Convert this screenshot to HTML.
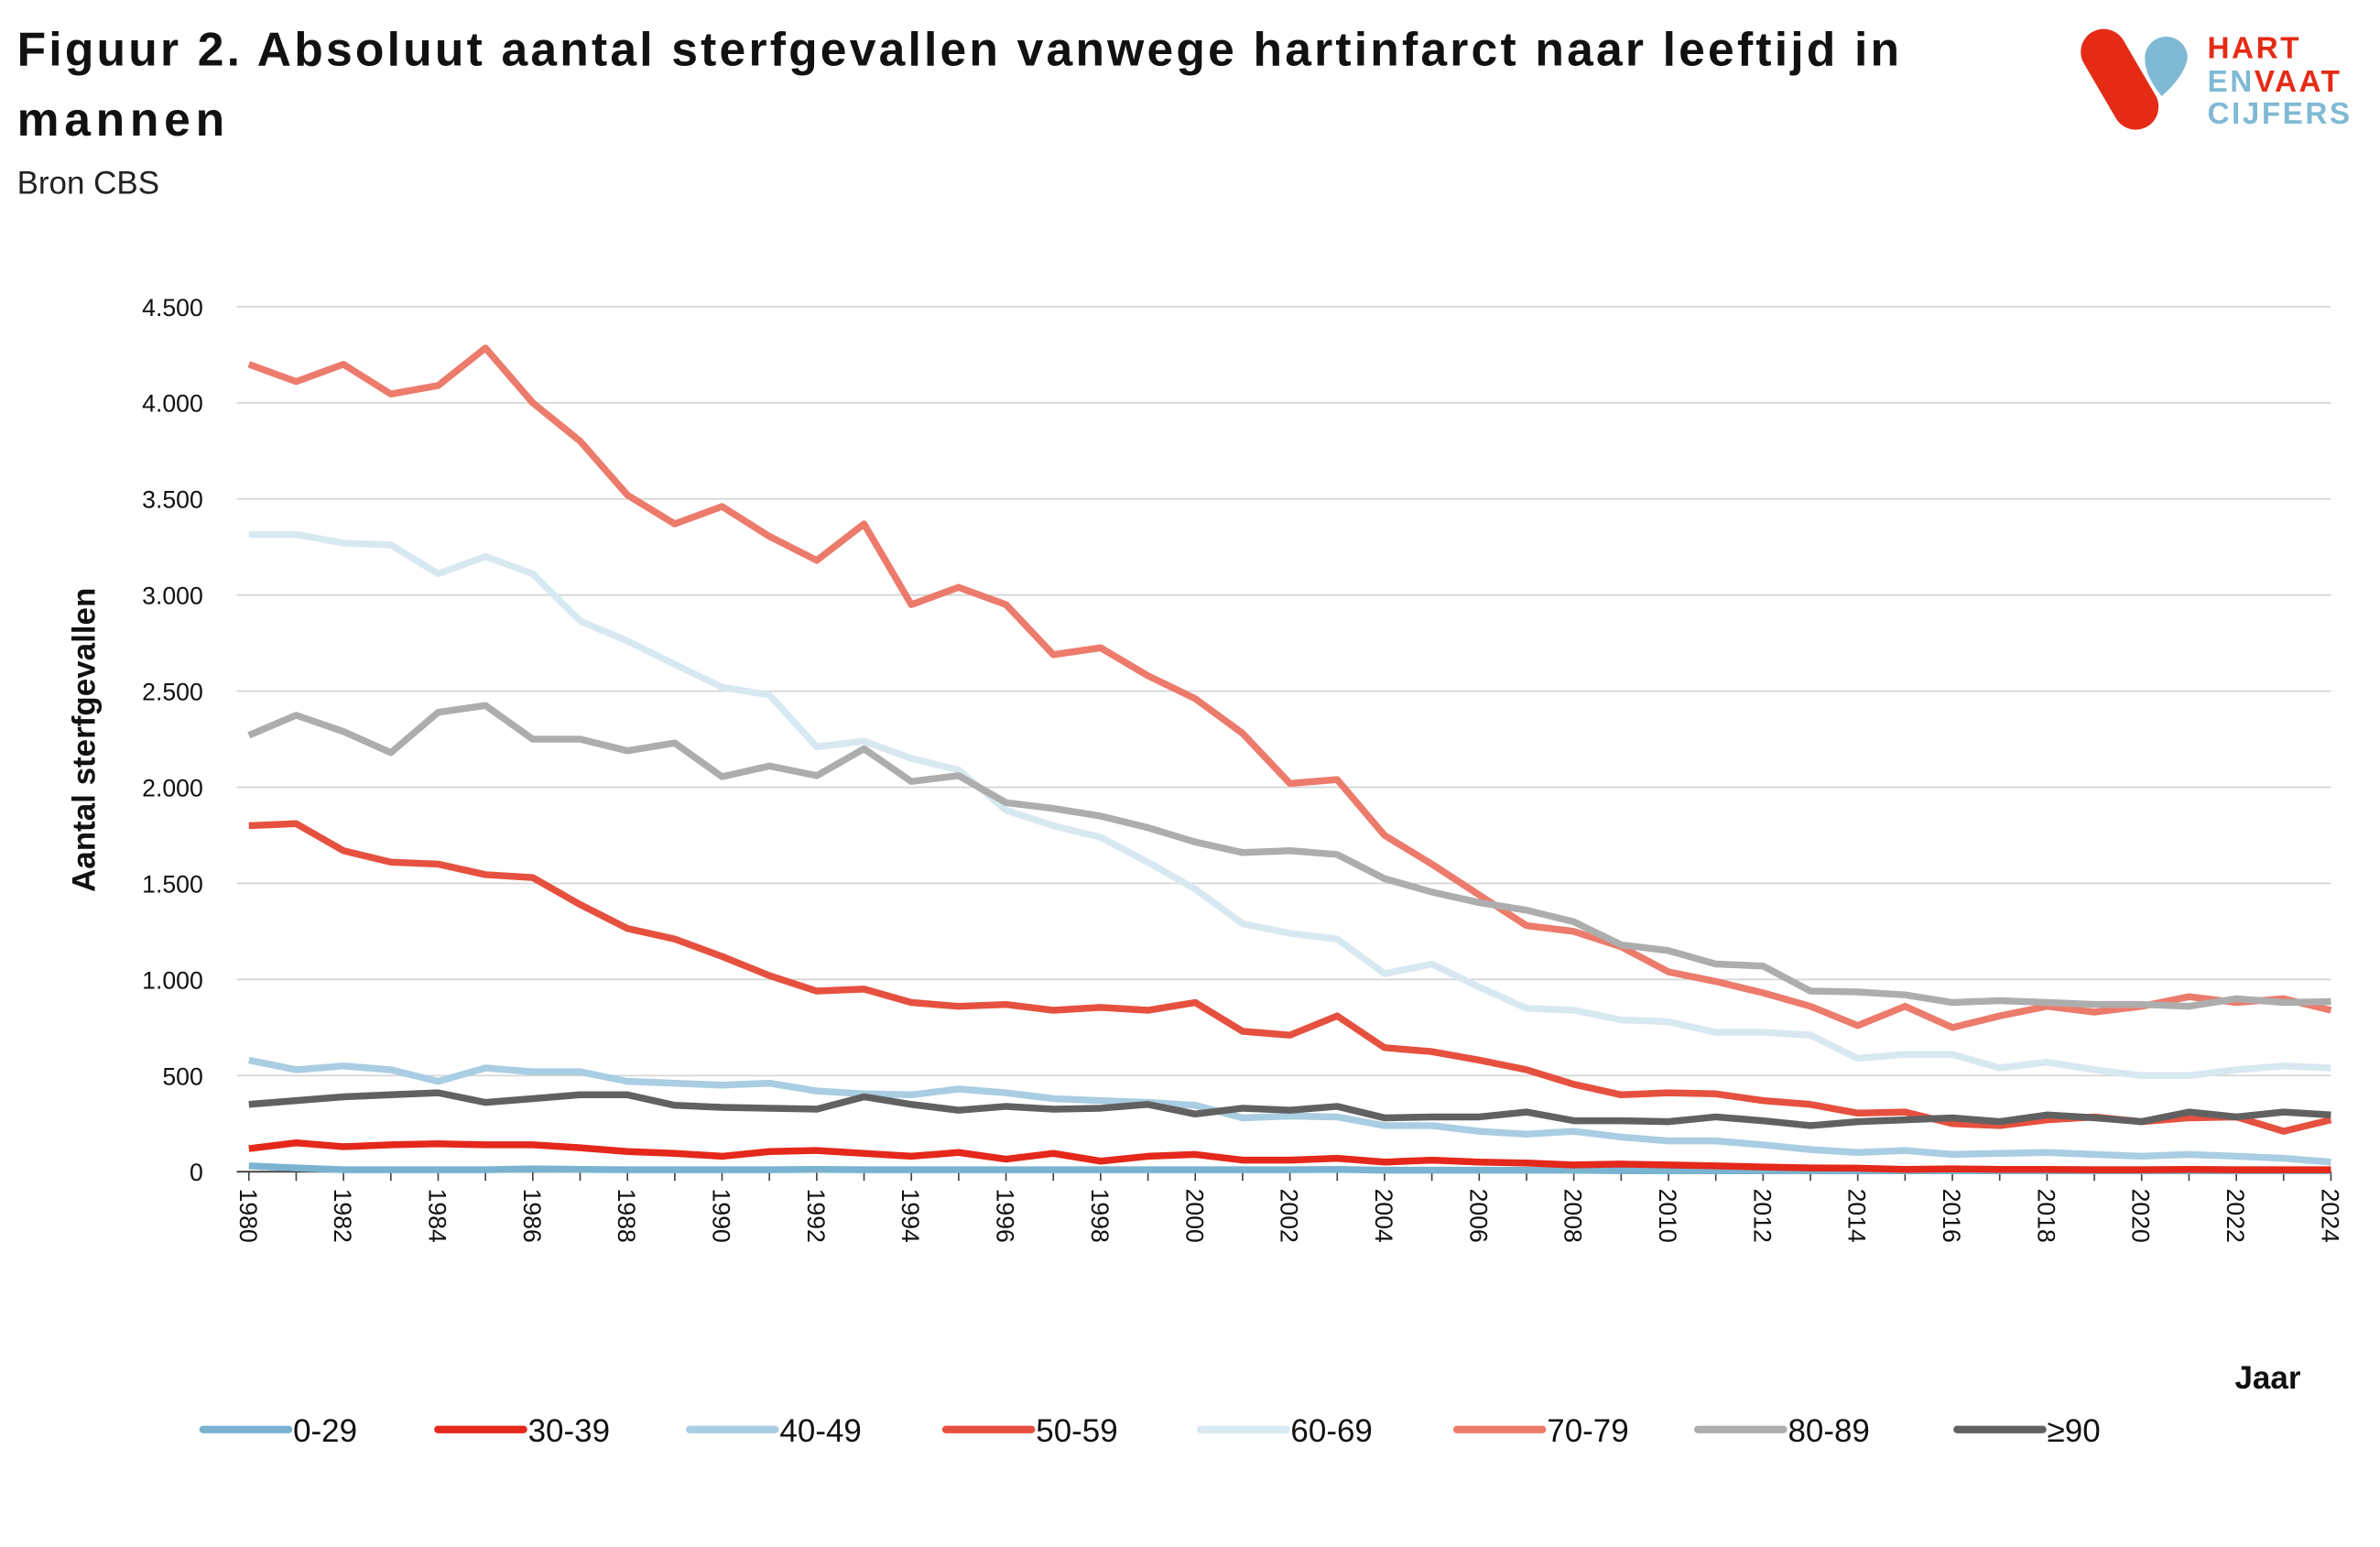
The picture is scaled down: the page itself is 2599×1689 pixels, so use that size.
<!DOCTYPE html>
<html><head><meta charset="utf-8"><style>
html,body{margin:0;padding:0;background:#fff;}
svg{display:block;font-family:"Liberation Sans","DejaVu Sans",sans-serif;}
</style></head><body>
<svg id="s" width="2599" height="1689" viewBox="0 0 1560 1014" xmlns="http://www.w3.org/2000/svg">
<rect width="1560" height="1014" fill="#fff"/>
<text x="11" y="43" font-size="31" font-weight="bold" fill="#111" textLength="1234" lengthAdjust="spacing">Figuur 2. Absoluut aantal sterfgevallen vanwege hartinfarct naar leeftijd in</text>
<text x="11" y="89" font-size="31" font-weight="bold" fill="#111" textLength="136" lengthAdjust="spacing">mannen</text>
<text x="11" y="127" font-size="21" fill="#222">Bron CBS</text>
<line x1="1379" y1="34" x2="1400" y2="70" stroke="#e52b16" stroke-width="30" stroke-linecap="round"/>
<path d="M1406,38 A14,14 0 1 1 1434,38 Q1432,50 1417,63 Q1406,50 1406,38 Z" fill="#80b9d4"/>
<text x="1447" y="38" font-size="20" font-weight="bold" fill="#e52b16" letter-spacing="1.5">HART</text>
<text x="1447" y="60" font-size="20" font-weight="bold" letter-spacing="1.5"><tspan fill="#80b9d4">EN</tspan><tspan fill="#e52b16">VAAT</tspan></text>
<text x="1447" y="81" font-size="20" font-weight="bold" fill="#80b9d4" letter-spacing="1.5">CIJFERS</text>
<g id="grid"></g>
<g id="series"></g>
<text transform="translate(62,485) rotate(-90)" text-anchor="middle" font-size="21" font-weight="bold" fill="#111">Aantal sterfgevallen</text>
<text x="1465" y="910" font-size="21" font-weight="bold" fill="#111">Jaar</text>
<g id="legend"></g>
</svg>
<script>
var NS="http://www.w3.org/2000/svg",s=document.getElementById('s');
function el(p,t,a,txt){var e=document.createElementNS(NS,t);for(var k in a)e.setAttribute(k,a[k]);if(txt!=null)e.textContent=txt;document.getElementById(p).appendChild(e);return e;}
var x0=163,dx=(1528-163)/44;function X(i){return x0+i*dx;}function Y(v){return 768-v*0.126;}
var labs=["0","500","1.000","1.500","2.000","2.500","3.000","3.500","4.000","4.500"];
for(var i=0;i<=9;i++){var y=Y(i*500);if(i>0)el('grid','line',{x1:155,x2:1528,y1:y,y2:y,stroke:"#d4d4d4","stroke-width":1});
el('grid','text',{x:133,y:y+6,"text-anchor":"end","font-size":16,fill:"#111"},labs[i]);}
el('grid','line',{x1:155,x2:1528,y1:768,y2:768,stroke:"#444","stroke-width":1.2});
for(var i=0;i<=44;i++){el('grid','line',{x1:X(i),x2:X(i),y1:768,y2:774,stroke:"#444","stroke-width":1});
if(i%2==0){el('grid','text',{transform:"translate("+(X(i)-6)+",779) rotate(90)","font-size":16,fill:"#111"},String(1980+i));}}
var D=[
["0-29","#7ab3d0",[30,20,10,10,10,10,15,12,10,10,10,10,12,10,10,10,10,10,10,10,10,10,10,12,8,8,8,8,8,5,5,5,5,5,5,5,5,5,5,5,5,5,5,5,5]],
["30-39","#e4281b",[120,150,130,140,145,140,140,125,105,95,80,105,110,95,80,100,65,95,55,80,90,60,60,70,50,60,50,45,35,40,35,30,25,20,18,12,15,12,12,10,10,12,10,10,10]],
["40-49","#a9cde3",[580,530,550,530,470,540,520,520,470,460,450,460,420,405,400,430,410,380,370,360,345,280,290,285,240,240,210,195,210,180,160,160,140,115,100,110,90,95,100,90,80,90,80,70,50]],
["50-59","#e6503f",[1800,1810,1670,1610,1600,1545,1530,1390,1265,1210,1120,1020,940,950,880,860,870,840,855,840,880,730,710,810,645,625,580,530,455,400,410,405,370,350,305,310,250,240,270,285,260,280,285,210,270]],
["60-69","#d8e8f1",[3315,3315,3270,3260,3110,3200,3110,2865,2760,2640,2520,2480,2210,2240,2150,2090,1880,1800,1740,1610,1470,1290,1240,1210,1030,1080,960,850,840,790,780,725,725,710,590,610,610,540,570,530,500,500,530,550,540]],
["70-79","#ec7b6c",[4200,4110,4200,4045,4090,4285,4000,3800,3520,3370,3460,3305,3180,3370,2950,3040,2950,2690,2725,2580,2460,2280,2020,2040,1750,1600,1440,1280,1250,1170,1040,990,930,860,760,860,750,810,860,830,860,910,880,900,840]],
["80-89","#adadad",[2270,2375,2290,2180,2390,2425,2250,2250,2190,2230,2055,2110,2060,2200,2030,2060,1920,1890,1850,1790,1715,1660,1670,1650,1525,1455,1400,1360,1300,1180,1150,1080,1070,940,935,920,880,890,880,870,870,860,900,880,885]],
["\u226590","#616161",[350,370,390,400,410,360,380,400,400,345,335,330,325,390,350,320,340,325,330,350,300,330,320,340,280,285,285,310,265,265,260,285,265,240,260,270,280,260,295,280,260,310,285,310,295]]
];
var lx=[133,287,452,620,787,955,1113,1283];
D.forEach(function(d,j){var p="";d[2].forEach(function(v,i){p+=(i?"L":"M")+X(i).toFixed(1)+","+Y(v).toFixed(1);});
el('series','path',{d:p,fill:"none",stroke:d[1],"stroke-width":4.5,"stroke-linejoin":"round"});
el('legend','line',{x1:lx[j],x2:lx[j]+56,y1:937,y2:937,stroke:d[1],"stroke-width":5,"stroke-linecap":"round"});
el('legend','text',{x:lx[j]+59,y:945,"font-size":21,fill:"#111"},d[0]);});
</script>
</body></html>
